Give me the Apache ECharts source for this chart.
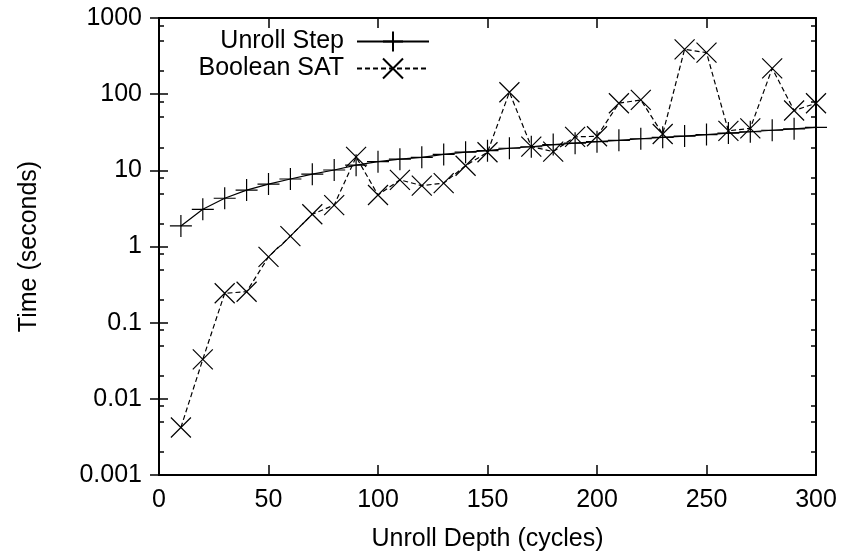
<!DOCTYPE html>
<html>
<head>
<meta charset="utf-8">
<script src="https://cdn.jsdelivr.net/npm/echarts@6/dist/echarts.min.js"></script>
<style>
  html, body { margin: 0; padding: 0; background: #fff; }
  #chart { width: 845px; height: 557px; }
</style>
</head>
<body>
<div id="chart"></div>
<script>
// unroll depth in cycles
var depth = [10, 20, 30, 40, 50, 60, 70, 80, 90, 100, 110, 120, 130, 140, 150,
  160, 170, 180, 190, 200, 210, 220, 230, 240, 250, 260, 270, 280, 290, 300];
// time in seconds
var unrollStep = [1.86, 3.08, 4.3, 5.5, 6.6, 7.7, 8.9, 10.1, 11.7, 13.0, 14.0, 14.8, 16.2, 17.3, 18.1,
  19.5, 20.4, 21.8, 22.7, 23.8, 24.8, 26.0, 27.1, 28.2, 29.5, 30.8, 32.1, 33.6, 35.1, 36.7];
var booleanSat = [0.0042, 0.033, 0.243, 0.255, 0.73, 1.37, 2.65, 3.5, 15, 4.75, 7.5, 6.3, 6.8, 11.5, 17.3,
  106, 20.5, 17.6, 27.5, 28, 76, 84, 30, 388, 351, 33, 35.6, 218, 61, 76];
var yTicks = [0.001, 0.01, 0.1, 1, 10, 100, 1000];

var minorTicks = [];
yTicks.slice(0, -1).forEach(function (d) {
  minorTicks.push(d * 2, d * 5, d * 8);
});

var FONT = "Liberation Sans, Arial, sans-serif";
var FS = 25;
var PLUS = "path://M0,5L10,5M5,0L5,10";
var CROSS = "path://M0,0L10,10M10,0L0,10";

var chart = echarts.init(document.getElementById("chart"));

function pairs(vals) {
  return depth.map(function (d, i) { return [d, vals[i]]; });
}

function yAxisBase(pos, ticks, len, showLabel) {
  return {
    type: "log",
    logBase: 10,
    min: 0.001,
    max: 1000,
    position: pos,
    axisLine: { show: true, lineStyle: { color: "#000", width: 2 } },
    axisTick: { show: true, inside: true, length: len, customValues: ticks, lineStyle: { color: "#000", width: 1.5 } },
    axisLabel: {
      show: showLabel,
      customValues: yTicks,
      margin: 17,
      color: "#000",
      fontFamily: FONT,
      fontSize: FS,
      formatter: function (v) { return String(v); }
    },
    splitLine: { show: false },
    minorTick: { show: false },
    minorSplitLine: { show: false }
  };
}

var option = {
  animation: false,
  grid: { left: 159, right: 29, top: 18, bottom: 82 },
  legend: {
    orient: "vertical",
    right: 415,
    top: 29,
    padding: 0,
    align: "right",
    itemWidth: 72,
    itemHeight: 25,
    itemGap: 2,
    selectedMode: false,
    textStyle: { color: "#000", fontFamily: FONT, fontSize: FS, padding: [0, 8, 0, 0] },
    data: ["Unroll Step", "Boolean SAT"]
  },
  xAxis: [
    {
      type: "value",
      min: 0,
      max: 300,
      interval: 50,
      position: "bottom",
      name: "Unroll Depth (cycles)",
      nameLocation: "middle",
      nameGap: 52,
      nameTextStyle: { color: "#000", fontFamily: FONT, fontSize: FS },
      axisLine: { show: true, onZero: false, lineStyle: { color: "#000", width: 2 } },
      axisTick: { show: true, inside: true, length: 10, lineStyle: { color: "#000", width: 1.5 } },
      axisLabel: { color: "#000", fontFamily: FONT, fontSize: FS, margin: 13 },
      splitLine: { show: false }
    },
    {
      type: "value",
      min: 0,
      max: 300,
      interval: 50,
      position: "top",
      axisLine: { show: true, onZero: false, lineStyle: { color: "#000", width: 2 } },
      axisTick: { show: true, inside: true, length: 10, lineStyle: { color: "#000", width: 1.5 } },
      axisLabel: { show: false },
      splitLine: { show: false }
    }
  ],
  yAxis: [
    Object.assign(yAxisBase("left", yTicks, 9, true), {
      name: "Time (seconds)",
      nameLocation: "middle",
      nameGap: 117,
      nameRotate: 90,
      nameTextStyle: { color: "#000", fontFamily: FONT, fontSize: FS }
    }),
    yAxisBase("right", yTicks, 9, false),
    yAxisBase("left", minorTicks, 5, false),
    yAxisBase("right", minorTicks, 5, false)
  ],
  series: [
    {
      name: "Unroll Step",
      type: "line",
      data: pairs(unrollStep),
      symbol: PLUS,
      symbolSize: 22,
      lineStyle: { color: "#000", width: 1.2 },
      itemStyle: { color: "#000", borderColor: "#000", borderWidth: 1.2 },
      z: 3
    },
    {
      name: "Boolean SAT",
      type: "line",
      data: pairs(booleanSat),
      symbol: CROSS,
      symbolSize: 20,
      lineStyle: { color: "#000", width: 1.2, type: [5, 3] },
      itemStyle: { color: "#000", borderColor: "#000", borderWidth: 1.2 },
      z: 4
    }
  ]
};

chart.setOption(option);
</script>
</body>
</html>
